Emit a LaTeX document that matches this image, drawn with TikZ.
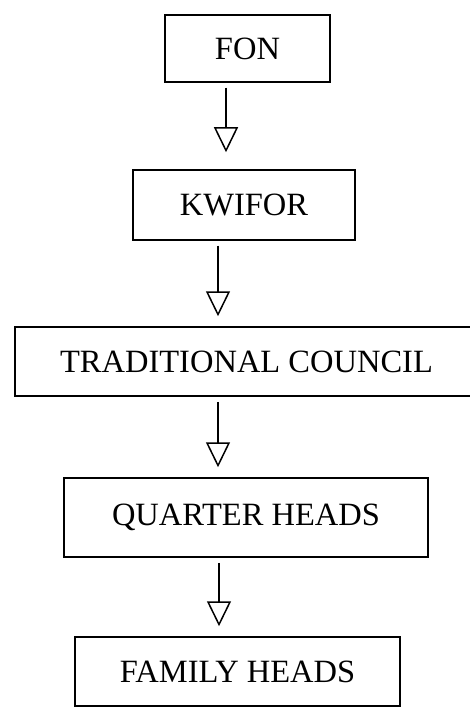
\documentclass[tikz,border=0pt]{standalone}
\usepackage{fontspec}
\setmainfont{Liberation Serif}
\usetikzlibrary{arrows.meta,positioning,calc}

\begin{document}
\begin{tikzpicture}[x=1pt, y=-1pt,
    >={Triangle[open, length=25pt, width=24pt]},
    rank/.style={draw, line width=1.5pt, inner sep=0pt,
      font=\fontsize{32.5}{38}\selectfont},
    flow/.style={->, line width=1.5pt, shorten <=5pt, shorten >=10pt}]
    \useasboundingbox (0,0) rectangle (470,708);
    % --- Ranks, top to bottom ---
    \node[rank, minimum width=165pt, minimum height=67pt] (fon) at (247.5,48.5) {FON};
    \node[rank, minimum width=222pt, minimum height=70pt] (kwifor) at (244,205) {KWIFOR};
    \node[rank, minimum width=463pt, minimum height=69pt] (council) at (246.5,361.5) {TRADITIONAL COUNCIL};
    \node[rank, minimum width=364pt, minimum height=79pt] (quarter) at (246,517.5) {QUARTER HEADS};
    \node[rank, minimum width=325pt, minimum height=69pt] (family) at (237.5,671.5) {FAMILY HEADS};
    % --- Arrows (a little left of the box centres) ---
    \draw[flow, shorten >=17pt] ([xshift=-21.5pt]fon.south) -- ([xshift=-21.5pt]fon.south |- kwifor.north);
    \draw[flow] ([xshift=-26pt]kwifor.south) -- ([xshift=-26pt]kwifor.south |- council.north);
    \draw[flow] ([xshift=-28.5pt]council.south) -- ([xshift=-28.5pt]council.south |- quarter.north);
    \draw[flow] ([xshift=-27pt]quarter.south) -- ([xshift=-27pt]quarter.south |- family.north);
\end{tikzpicture}
\end{document}
